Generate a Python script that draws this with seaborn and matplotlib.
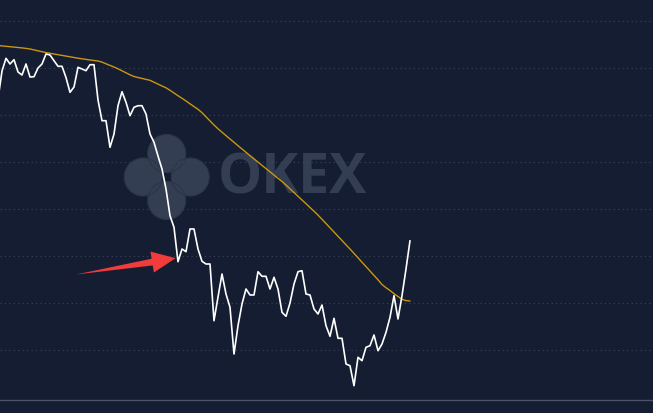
import numpy as np
import pandas as pd
import matplotlib
matplotlib.use("Agg")
import matplotlib.pyplot as plt
import seaborn as sns
from matplotlib.patches import Circle

# price (white) and moving average (gold), one value per period
price = [
    8220, 8500, 8627, 8570, 8613, 8490, 8460, 8570, 8440, 8443,
    8530, 8570, 8670, 8660, 8603, 8547, 8547, 8435, 8287, 8340,
    8537, 8520, 8503, 8563, 8563, 8210, 8003, 8003, 7737, 7870,
    8153, 8293, 8187, 8053, 8137, 8153, 8153, 8070, 7870, 7787,
    7650, 7520, 7320, 7053, 6937, 6593, 6720, 6693, 6920, 6920,
    6720, 6597, 6570, 6570, 6003, 6240, 6470, 6270, 6137, 5670,
    5953, 6170, 6320, 6260, 6260, 6493, 6447, 6447, 6320, 6437,
    6320, 6087, 6047, 6180, 6370, 6493, 6503, 6270, 6260, 6120,
    6070, 6160, 5953, 5847, 6027, 5827, 5827, 5570, 5553, 5353,
    5637, 5603, 5737, 5753, 5860, 5703, 5770, 5887, 6037, 6253,
    6020, 6253, 6520, 6803,
]
moving_avg = [
    8755, 8751, 8747, 8743, 8739, 8735, 8731, 8726, 8720, 8711,
    8702, 8693, 8684, 8677, 8670, 8663, 8656, 8649, 8642, 8635,
    8628, 8622, 8616, 8610, 8605, 8600, 8589, 8572, 8556, 8540,
    8522, 8502, 8482, 8462, 8445, 8435, 8426, 8416, 8407, 8388,
    8369, 8350, 8332, 8307, 8280, 8253, 8227, 8200, 8172, 8144,
    8117, 8083, 8042, 8001, 7960, 7922, 7888, 7854, 7820, 7787,
    7753, 7720, 7687, 7653, 7621, 7589, 7556, 7524, 7492, 7459,
    7427, 7395, 7360, 7322, 7285, 7247, 7210, 7173, 7135, 7098,
    7059, 7017, 6975, 6932, 6890, 6847, 6805, 6762, 6720, 6676,
    6632, 6588, 6544, 6500, 6456, 6412, 6365, 6333, 6305, 6273,
    6245, 6217, 6204, 6200,
]
grid_levels = [5710, 6180, 6650, 7120, 7590, 8060, 8530, 9000]
baseline = 5210

bg = "#141d31"
sns.set_theme(style="dark", rc={"axes.facecolor": bg, "figure.facecolor": bg})

df = pd.DataFrame({"t": np.arange(len(price)), "price": price, "ma": moving_avg})

fig = plt.figure(figsize=(6.53, 4.14), dpi=100)
ax = fig.add_axes([0, 0, 1, 1])

for lvl in grid_levels:
    ax.axhline(lvl, color="#3b465a", lw=0.8, linestyle=(0, (1, 3)), zorder=0)
ax.axhline(baseline, color="#4b5467", lw=1.0, zorder=0)

sns.lineplot(data=df, x="t", y="ma", color="#cc9610", lw=1.0, ax=ax, zorder=3)
sns.lineplot(data=df, x="t", y="price", color="white", lw=1.2, ax=ax, zorder=4)

ax.set_xlim(0.5, 163.75)
ax.set_ylim(5080, 9220)
ax.set_axis_off()

# red arrow pointing at the dip: tapered shaft + head
red = "#f23b3b"
ax.annotate("", xy=(19.5, 6465), xytext=(40.5, 6602),
            arrowprops=dict(arrowstyle="wedge,tail_width=0.3,shrink_factor=0.5",
                            color=red, lw=0, mutation_scale=18,
                            shrinkA=0, shrinkB=0),
            zorder=5)
ax.annotate("", xy=(44.4, 6628), xytext=(39.5, 6596),
            arrowprops=dict(arrowstyle="simple,head_length=0.95,head_width=0.85,tail_width=0.05",
                            color=red, lw=0, mutation_scale=18,
                            shrinkA=0, shrinkB=0),
            zorder=5)

# OKEX watermark
logo = fig.add_axes([(166.7 - 50) / 653, (414 - 178 - 50) / 414, 100 / 653, 100 / 414])
logo.set_xlim(-50, 50)
logo.set_ylim(-50, 50)
logo.set_aspect("equal")
logo.set_axis_off()
logo.patch.set_alpha(0)
wm = "#343e52"
for cx, cy in [(0, 23.5), (-23.5, 0), (23.5, 0), (0, -23.5)]:
    logo.add_patch(Circle((cx, cy), 19, facecolor=wm, edgecolor="none", zorder=1))
for cx, cy in [(0, 23.5), (-23.5, 0), (23.5, 0), (0, -23.5)]:
    logo.add_patch(Circle((cx, cy), 19, facecolor="none", edgecolor="#2c3548", lw=0.8, zorder=2))
logo.set_zorder(1)
ax.set_zorder(2)
ax.patch.set_alpha(0)

fig.text(218 / 653, 1 - 178.5 / 414, "OKEX", color=wm, fontsize=40, fontweight="bold",
         family="Open Sans", ha="left", va="center", zorder=1)

fig.savefig("out.png", dpi=100, facecolor=bg)
